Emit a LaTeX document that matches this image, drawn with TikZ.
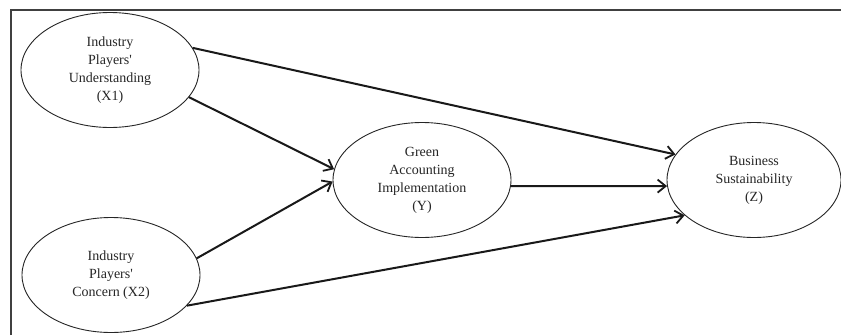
\documentclass[tikz,border=0pt]{standalone}
\usepackage{fontspec}
\setmainfont{Liberation Serif}
\usetikzlibrary{shapes.geometric,arrows.meta}
\begin{document}
\begin{tikzpicture}[x=1pt,y=-1pt,
  var/.style={ellipse,draw=black!85,line width=0.9pt,minimum width=178pt,minimum height=115pt,inner sep=0pt,align=center,
    font=\fontsize{14pt}{18pt}\selectfont,text=black!85},
  path/.style={line width=2pt,black!90,-{Straight Barb[length=8pt,width=13pt,line width=1.8pt]}}]
\useasboundingbox (0,0) rectangle (841,335);
\fill[white] (0,0) rectangle (841,335);
\draw[line width=1.4pt,black!75] (11,335) -- (11,10) -- (841,10);
\node[var] (X1) at (110,70) {Industry\\Players\textquotesingle\\Understanding\\(X1)};
\node[var] (X2) at (111,275) {Industry\\Players\textquotesingle\\Concern (X2)};
\node[var] (Y) at (422,180) {Green\\Accounting\\Implementation\\(Y)};
\node[var,minimum width=174pt] (Z) at (754,180) {Business\\Sustainability\\(Z)};
\draw[path] (X1.15.5) -- (Z.162.4);
\draw[path] (X1.-19.3) -- (Y.173.6);
\draw[path] (X2.11.3) -- (Y.-179);
\draw[path] (Y.-4) -- (Z.-176);
\draw[path] (X2.-22.2) -- (Z.-153);
\end{tikzpicture}
\end{document}
